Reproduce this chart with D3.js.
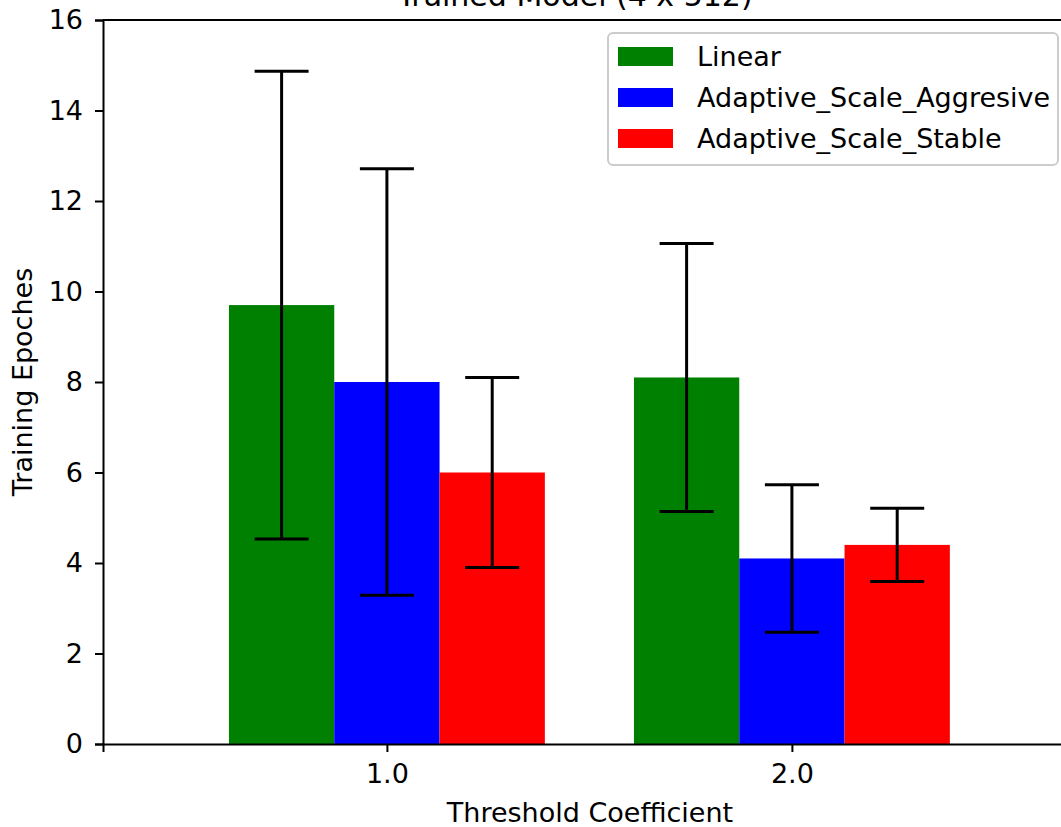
<!DOCTYPE html>
<html>
<head>
<meta charset="utf-8">
<script src="https://cdn.jsdelivr.net/npm/d3@7"></script>
<style>
  body { margin: 0; background: #fff; }
  svg { display: block; font-family: "DejaVu Sans", sans-serif; }
</style>
</head>
<body>
<div id="chart"></div>
<script>
// datos del gráfico
var categories = ["1.0", "2.0"];
var categoryPos = [1.0, 2.0];
var seriesNames = ["Linear", "Adaptive_Scale_Aggresive", "Adaptive_Scale_Stable"];
var seriesColors = ["#008000", "#0000ff", "#ff0000"];
var linearValues = [9.7, 8.1];
var aggresiveValues = [8.0, 4.1];
var stableValues = [6.0, 4.4];
var linearErr = [5.17, 2.96];
var aggresiveErr = [4.71, 1.63];
var stableErr = [2.1, 0.81];
var yTicks = [0, 2, 4, 6, 8, 10, 12, 14, 16];

var allValues = [linearValues, aggresiveValues, stableValues];
var allErr = [linearErr, aggresiveErr, stableErr];

var width = 1061, height = 827;
var mLeft = 103, mTop = 20, mRight = 1066, mBottom = 744;
var barWidth = 0.26;
var fontSize = 27;

var svg = d3.select("#chart").append("svg")
    .attr("width", width)
    .attr("height", height);

var x = d3.scaleLinear()
    .domain([0.299, 0.299 + (mRight - mLeft) / 405])
    .range([mLeft, mRight]);

var y = d3.scaleLinear()
    .domain([0, 16])
    .range([mBottom, mTop]);

// barras
var bars = [];
seriesNames.forEach(function(name, s) {
    categoryPos.forEach(function(c, i) {
        bars.push({ s: s, pos: c + (s - 1) * barWidth, value: allValues[s][i], err: allErr[s][i] });
    });
});

svg.selectAll(".bar")
    .data(bars)
    .enter().append("rect")
    .attr("class", "bar")
    .attr("x", d => x(d.pos - barWidth / 2))
    .attr("y", d => y(d.value))
    .attr("width", d => x(d.pos + barWidth / 2) - x(d.pos - barWidth / 2))
    .attr("height", d => y(0) - y(d.value))
    .attr("fill", d => seriesColors[d.s]);

// barras de error
var cap = 27;
var eb = svg.selectAll(".err")
    .data(bars)
    .enter().append("g")
    .attr("class", "err")
    .attr("stroke", "#000")
    .attr("stroke-width", 3);
eb.append("line")
    .attr("x1", d => x(d.pos)).attr("x2", d => x(d.pos))
    .attr("y1", d => y(d.value - d.err)).attr("y2", d => y(d.value + d.err));
eb.append("line")
    .attr("x1", d => x(d.pos) - cap).attr("x2", d => x(d.pos) + cap)
    .attr("y1", d => y(d.value + d.err)).attr("y2", d => y(d.value + d.err));
eb.append("line")
    .attr("x1", d => x(d.pos) - cap).attr("x2", d => x(d.pos) + cap)
    .attr("y1", d => y(d.value - d.err)).attr("y2", d => y(d.value - d.err));

// ejes
var yAxis = svg.append("g")
    .attr("transform", "translate(" + mLeft + ",0)")
    .call(d3.axisLeft(y).tickValues(yTicks).tickFormat(d3.format("d")).tickSizeOuter(0).tickSize(8).tickPadding(12));

var xAxis = svg.append("g")
    .attr("transform", "translate(0," + mBottom + ")")
    .call(d3.axisBottom(x).tickValues(categoryPos).tickFormat((d, i) => categories[i]).tickSizeOuter(0).tickSize(8).tickPadding(12));

[yAxis, xAxis].forEach(function(a) {
    a.selectAll("path").attr("stroke", "#000").attr("stroke-width", 2);
    a.selectAll("line").attr("stroke", "#000").attr("stroke-width", 2);
    a.selectAll("text").attr("font-size", fontSize).attr("font-family", "DejaVu Sans").attr("fill", "#000");
});

// borde superior
svg.append("line")
    .attr("x1", mLeft).attr("x2", mRight)
    .attr("y1", mTop).attr("y2", mTop)
    .attr("stroke", "#000").attr("stroke-width", 2);

// títulos
svg.append("text")
    .attr("x", 575).attr("y", 6)
    .attr("text-anchor", "middle")
    .attr("font-size", 30)
    .text("Trained Model (4 x 512)");

svg.append("text")
    .attr("x", 590).attr("y", 822)
    .attr("text-anchor", "middle")
    .attr("font-size", fontSize)
    .text("Threshold Coefficient");

svg.append("text")
    .attr("transform", "translate(32," + ((mTop + mBottom) / 2) + ") rotate(-90)")
    .attr("text-anchor", "middle")
    .attr("font-size", fontSize)
    .text("Training Epoches");

// leyenda
var legend = svg.append("g");
legend.append("rect")
    .attr("x", 608).attr("y", 33)
    .attr("width", 450).attr("height", 132)
    .attr("rx", 5)
    .attr("fill", "#fff").attr("fill-opacity", 0.8)
    .attr("stroke", "#ccc").attr("stroke-width", 2);

var items = legend.selectAll(".item")
    .data(seriesNames)
    .enter().append("g")
    .attr("class", "item")
    .attr("transform", (d, i) => "translate(0," + (56.5 + i * 41) + ")");
items.append("rect")
    .attr("x", 618).attr("y", -9.5)
    .attr("width", 55).attr("height", 19)
    .attr("fill", (d, i) => seriesColors[i]);
items.append("text")
    .attr("x", 697).attr("y", 9.5)
    .attr("font-size", fontSize)
    .text(d => d);
</script>
</body>
</html>
